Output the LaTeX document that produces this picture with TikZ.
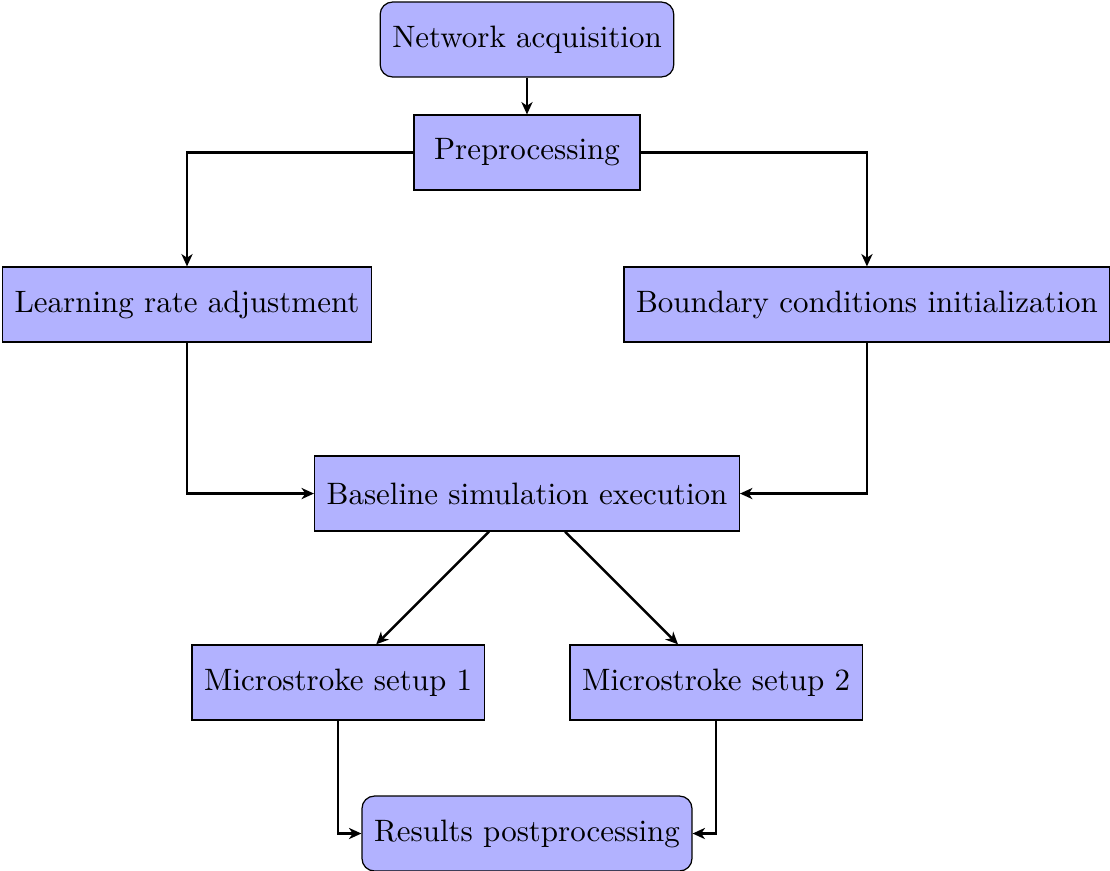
\documentclass[tikz,border=0pt]{standalone}
\usetikzlibrary{arrows.meta}
\begin{document}
\begin{tikzpicture}[x=1pt,y=1pt,
  box/.style={draw, fill=blue!30, minimum height=24.2pt, minimum width=73pt, inner xsep=3.9pt, font=\normalsize},
  rbox/.style={box, rounded corners=4pt},
  conn/.style={thick, -{Stealth[length=4pt,width=3.6pt,inset=1.2pt]}}]
\useasboundingbox (0,0) rectangle (358.5,-281.3);
\node[rbox] (net)  at (170.2,-12.76) {Network acquisition};
\node[box]  (pre)  at (170.2,-49.26) {Preprocessing};
\node[box]  (lr)   at (60.4,-98.35) {Learning rate adjustment};
\node[box]  (bc)   at (280.0,-98.35) {Boundary conditions initialization};
\node[box]  (base) at (170.2,-159.4) {Baseline simulation execution};
\node[box]  (ms1)  at (109.2,-220.4) {Microstroke setup 1};
\node[box]  (ms2)  at (231.3,-220.4) {Microstroke setup 2};
\node[rbox] (res)  at (170.2,-269.2) {Results postprocessing};
\draw[conn] (net) -- (pre);
\draw[conn] (pre.west) -| (lr.north);
\draw[conn] (pre.east) -| (bc.north);
\draw[conn] (lr.south) |- (base.west);
\draw[conn] (bc.south) |- (base.east);
\draw[conn] (base) -- (ms1);
\draw[conn] (base) -- (ms2);
\draw[conn] (ms1.south) |- (res.west);
\draw[conn] (ms2.south) |- (res.east);
\end{tikzpicture}
\end{document}
